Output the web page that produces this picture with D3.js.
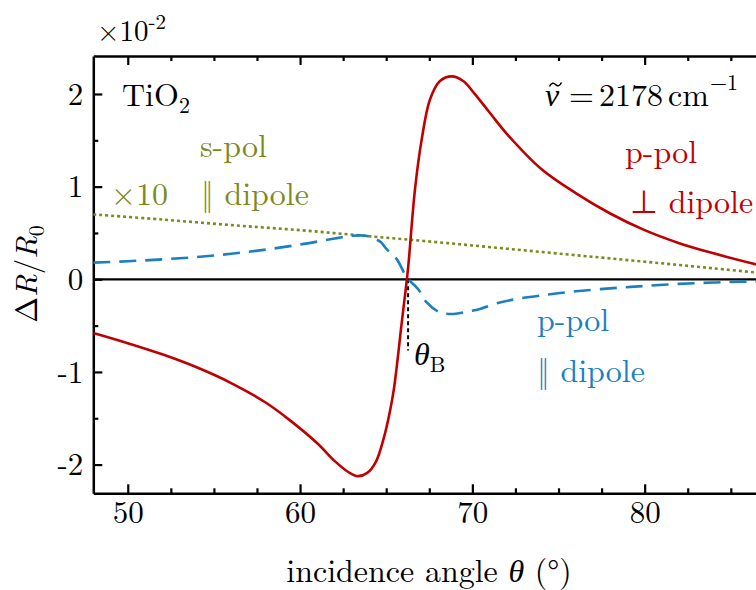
<!DOCTYPE html>
<html>
<head>
<meta charset="utf-8">
<script src="https://cdn.jsdelivr.net/npm/d3@7"></script>
<style>
  body { margin: 0; background: #fff; }
  svg { display: block; }
  text { font-family: "Latin Modern Roman", "CMU Serif", "Liberation Serif", serif; }
</style>
</head>
<body>
<svg id="chart" width="756" height="590"></svg>
<script>
//////////////////////////////////////
// Data (ΔR/R0 in units of 1e-2)

const theta_pPerp = [48, 50, 52, 54, 56, 58, 59.4, 61, 62, 62.8, 63.35, 63.9, 64.4, 64.85, 65.2, 65.45, 65.9, 66.2, 66.3, 66.67, 67.06, 67.54, 68.12, 68.8, 69.47, 70.1, 71, 72, 74, 76, 78, 80, 82, 84, 86.5, 88];
const dR_pPerp = [-0.58, -0.69, -0.81, -0.95, -1.12, -1.33, -1.52, -1.77, -1.96, -2.08, -2.125, -2.09, -1.97, -1.72, -1.44, -1.18, -0.47, 0, 0.18, 0.97, 1.51, 1.94, 2.14, 2.19, 2.14, 2.01, 1.80, 1.57, 1.19, 0.93, 0.71, 0.53, 0.39, 0.28, 0.16, 0.11];

const theta_pPar = [48, 50, 52, 54, 56, 58, 60, 62, 63, 63.8, 64.3, 64.7, 65.0, 65.6, 66.2, 66.87, 67.35, 68.1, 68.9, 69.7, 70.44, 71.4, 72.5, 74.3, 76, 78.2, 80, 82, 84, 86, 88];
const dR_pPar = [0.18, 0.195, 0.215, 0.24, 0.275, 0.32, 0.375, 0.44, 0.47, 0.47, 0.44, 0.40, 0.33, 0.22, 0.02, -0.11, -0.25, -0.355, -0.375, -0.35, -0.32, -0.26, -0.215, -0.167, -0.13, -0.095, -0.072, -0.05, -0.035, -0.025, -0.02];

const theta_s = [48, 52, 56, 60, 64, 68, 72, 76, 80, 84, 88];
const dR_s = [0.70, 0.645, 0.585, 0.53, 0.465, 0.40, 0.33, 0.26, 0.19, 0.118, 0.045];

const thetaB = 66.27;
const xMajor = [50, 60, 70, 80];
const yMajor = [-2, -1, 0, 1, 2];

//////////////////////////////////////
// Scales

const red = "#c00000", blue = "#1a80c0", olive = "#7b8a1e";

const x = d3.scaleLinear().domain([48, 88]).range([93.3, 782.5]);
const y = d3.scaleLinear().domain([-2.31, 2.41]).range([493.3, 56]);

const svg = d3.select("#chart");

svg.append("clipPath").attr("id", "plot")
  .append("rect")
  .attr("x", x(48)).attr("y", y(2.41))
  .attr("width", x(88) - x(48)).attr("height", y(-2.31) - y(2.41));

//////////////////////////////////////
// Axes (ticks pointing inward, mirrored on top)

const xMinor = d3.range(47.5, 88.01, 2.5).filter(v => v >= 48 && xMajor.indexOf(v) < 0);
const yMinor = d3.range(-2.5, 2.51, 0.5).filter(v => v > -2.31 && v < 2.41 && yMajor.indexOf(v) < 0);

function addX(pos, orient, labels) {
  const ax = (orient === "bottom" ? d3.axisBottom(x) : d3.axisTop(x))
    .tickValues(xMajor).tickSizeInner(-9).tickSizeOuter(0)
    .tickFormat(labels ? d3.format("d") : "");
  const g = svg.append("g").attr("transform", "translate(0," + pos + ")").call(ax);
  g.select(".domain").attr("stroke-width", 2.5);
  g.selectAll(".tick line").attr("stroke", "#000").attr("stroke-width", 2.2);
  g.selectAll("text").attr("font-size", 31).attr("fill", "#000").attr("dy", null).attr("y", 30);
  const mi = (orient === "bottom" ? d3.axisBottom(x) : d3.axisTop(x))
    .tickValues(xMinor).tickSizeInner(-5).tickSizeOuter(0).tickFormat("");
  const gm = svg.append("g").attr("transform", "translate(0," + pos + ")").call(mi);
  gm.select(".domain").remove();
  gm.selectAll(".tick line").attr("stroke", "#000").attr("stroke-width", 2.2);
}
addX(y(-2.31), "bottom", true);
addX(y(2.41), "top", false);

const yAx = d3.axisLeft(y).tickValues(yMajor).tickSizeInner(-9).tickSizeOuter(0).tickFormat(d3.format("d"));
const gy = svg.append("g").attr("transform", "translate(" + x(48) + ",0)").call(yAx);
gy.select(".domain").attr("stroke-width", 2.5);
gy.selectAll(".tick line").attr("stroke", "#000").attr("stroke-width", 2.2);
gy.selectAll("text").attr("font-size", 31).attr("fill", "#000").attr("x", -10).attr("dy", "0.33em")
  .text(d => d < 0 ? "-" + Math.abs(d) : d);
const gym = svg.append("g").attr("transform", "translate(" + x(48) + ",0)")
  .call(d3.axisLeft(y).tickValues(yMinor).tickSizeInner(-5).tickSizeOuter(0).tickFormat(""));
gym.select(".domain").remove();
gym.selectAll(".tick line").attr("stroke", "#000").attr("stroke-width", 2.2);

//////////////////////////////////////
// Curves

const plot = svg.append("g").attr("clip-path", "url(#plot)");

plot.append("line")
  .attr("x1", x(48)).attr("x2", x(88)).attr("y1", y(0)).attr("y2", y(0))
  .attr("stroke", "#000").attr("stroke-width", 2.2);

plot.append("line")
  .attr("x1", x(thetaB)).attr("x2", x(thetaB)).attr("y1", y(0)).attr("y2", y(-0.77))
  .attr("stroke", "#000").attr("stroke-width", 2).attr("stroke-dasharray", "4,3");

const line = d3.line().x(d => x(d[0])).y(d => y(d[1])).curve(d3.curveCatmullRom.alpha(0.5));

plot.append("path").datum(d3.zip(theta_s, dR_s))
  .attr("d", line).attr("fill", "none").attr("stroke", olive)
  .attr("stroke-width", 2.6).attr("stroke-dasharray", "3,3");

plot.append("path").datum(d3.zip(theta_pPar, dR_pPar))
  .attr("d", line).attr("fill", "none").attr("stroke", blue)
  .attr("stroke-width", 2.6).attr("stroke-dasharray", "17,9");

plot.append("path").datum(d3.zip(theta_pPerp, dR_pPerp))
  .attr("d", line).attr("fill", "none").attr("stroke", red)
  .attr("stroke-width", 2.6);

//////////////////////////////////////
// Labels

function label(tx, ty, color, anchor) {
  return svg.append("text").attr("x", tx).attr("y", ty).attr("fill", color)
    .attr("font-size", 32).attr("text-anchor", anchor || "start");
}

label(122, 106, "#000").text("TiO").append("tspan").attr("font-size", 22).attr("dy", 7).text("2");

// wavenumber; the tilde accent over nu is a small stroked path
const nu = label(545, 106, "#000");
nu.append("tspan").attr("font-style", "italic").text("ν");
nu.append("tspan").attr("x", 569).text("=");
nu.append("tspan").attr("x", 599).text("2178");
nu.append("tspan").attr("x", 668).text("cm");
nu.append("tspan").attr("x", 710).attr("y", 90).attr("font-size", 22).text("−1");
svg.append("path")
  .attr("d", "M549.5,86.5 C551.5,82.5 553.5,82.5 555.5,84.5 C557.5,86.5 559.5,86.5 561.5,82.5")
  .attr("fill", "none").attr("stroke", "#000").attr("stroke-width", 1.6);

label(625, 163, red).text("p-pol");
label(630, 213, red).text("⊥ dipole");

label(200, 157, olive).text("s-pol");
label(111, 205, olive).text("×10");
label(201, 205, olive).text("‖ dipole");

label(537, 331, blue).text("p-pol");
label(537, 382, blue).text("‖ dipole");

const tb = label(414, 365, "#000");
tb.append("tspan").attr("font-style", "italic").text("θ");
tb.append("tspan").attr("font-size", 22).attr("dy", 7).text("B");

const mult = label(97, 41, "#000").attr("font-size", 29);
mult.append("tspan").text("×10");
mult.append("tspan").attr("font-size", 21).attr("dy", -12).text("-2");

const xt = label(429, 582, "#000", "middle");
xt.append("tspan").text("incidence angle ");
xt.append("tspan").attr("font-style", "italic").text("θ");
xt.append("tspan").text(" (°)");

const yt = svg.append("text").attr("transform", "translate(37,274) rotate(-90)")
  .attr("text-anchor", "middle").attr("font-size", 31).attr("fill", "#000");
yt.append("tspan").text("Δ");
yt.append("tspan").attr("font-style", "italic").text("R");
yt.append("tspan").text("/");
yt.append("tspan").attr("font-style", "italic").text("R");
yt.append("tspan").attr("font-size", 22).attr("dy", 7).text("0");
</script>
</body>
</html>
